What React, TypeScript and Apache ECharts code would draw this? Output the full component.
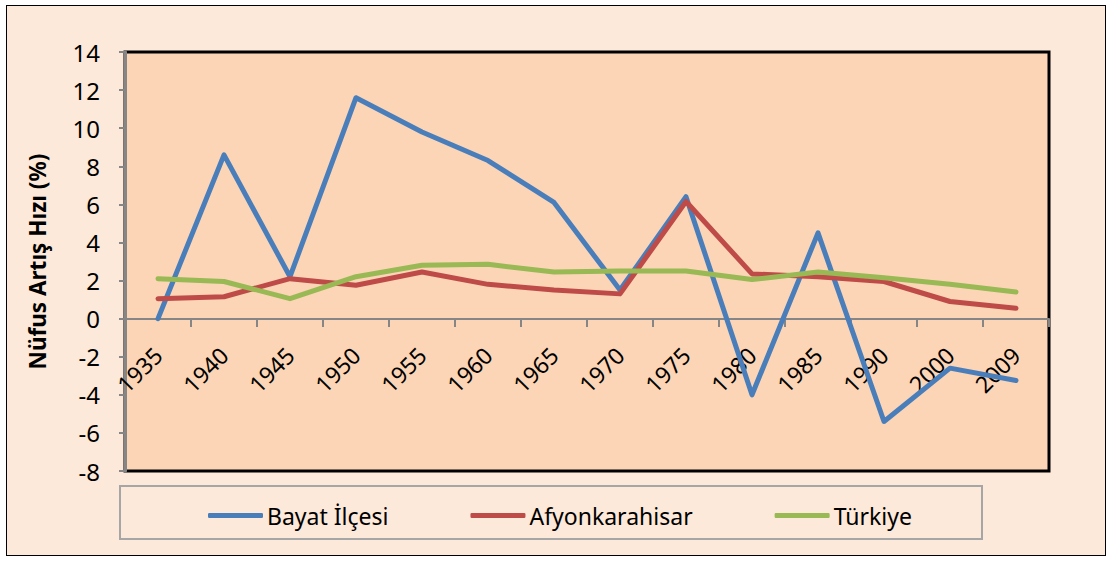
import React, { useEffect, useRef } from "react";
import * as echarts from "echarts";

const years = ["1935", "1940", "1945", "1950", "1955", "1960", "1965", "1970", "1975", "1980", "1985", "1990", "2000", "2009"];
const bayat = [0, 8.6, 2.2, 11.6, 9.8, 8.3, 6.1, 1.5, 6.4, -4.0, 4.5, -5.4, -2.6, -3.25];
const afyon = [1.05, 1.15, 2.1, 1.75, 2.45, 1.8, 1.5, 1.3, 6.15, 2.35, 2.2, 1.95, 0.9, 0.55];
const turkiye = [2.1, 1.95, 1.05, 2.2, 2.8, 2.85, 2.45, 2.5, 2.5, 2.05, 2.45, 2.15, 1.8, 1.4];
const seriesNames = ["Bayat İlçesi", "Afyonkarahisar", "Türkiye"];
const colors = ["#4a7ebb", "#be4b48", "#98b954"];
const yTicks = { min: -8, max: 14, interval: 2 };

const FONT = "'Noto Sans', 'Open Sans', sans-serif";

export default function App() {
  const ref = useRef<HTMLDivElement>(null);
  useEffect(() => {
    if (!ref.current) return;
    const chart = echarts.init(ref.current, null, { renderer: "svg" });
    const data = [bayat, afyon, turkiye];
    chart.setOption({
      animation: false,
      textStyle: { fontFamily: FONT },
      grid: {
        left: 125,
        top: 52,
        right: 63,
        bottom: 90,
        show: true,
        backgroundColor: "#fbd5b5",
        borderColor: "#000",
        borderWidth: 3,
      },
      legend: {
        data: seriesNames,
        left: 203,
        top: 499,
        itemGap: 82,
        itemWidth: 55,
        itemHeight: 5,
        icon: "roundRect",
        textStyle: { fontFamily: FONT, fontSize: 23, color: "#000", padding: [0, 0, 0, -1] },
      },
      xAxis: {
        type: "category",
        data: years,
        boundaryGap: true,
        offset: -152,
        axisLine: { onZero: false, lineStyle: { color: "#868686", width: 2 } },
        axisTick: { show: true, interval: 0, length: 8, lineStyle: { color: "#868686", width: 2 } },
        axisLabel: { interval: 0, rotate: 45, margin: 32, fontSize: 23, color: "#000", fontFamily: FONT },
        splitLine: { show: false },
      },
      yAxis: {
        type: "value",
        min: yTicks.min,
        max: yTicks.max,
        interval: yTicks.interval,
        name: "Nüfus Artış Hızı (%)",
        nameLocation: "middle",
        nameGap: 76,
        nameRotate: 90,
        nameTextStyle: { fontSize: 22.5, fontWeight: "bold", color: "#000", fontFamily: FONT },
        axisLine: { show: true, lineStyle: { color: "#868686", width: 3 } },
        axisTick: { show: true, length: 6, lineStyle: { color: "#868686", width: 2 } },
        axisLabel: { margin: 25, fontSize: 24, color: "#000", fontFamily: FONT },
        splitLine: { show: false },
      },
      graphic: [
        {
          type: "rect",
          shape: { x: 120, y: 486, width: 862, height: 53 },
          style: { fill: "none", stroke: "#a6a6a6", lineWidth: 2 },
        },
      ],
      series: seriesNames.map((n, i) => ({
        name: n,
        type: "line",
        data: data[i],
        symbol: "none",
        lineStyle: { color: colors[i], width: 5, cap: "round", join: "round" },
        itemStyle: { color: colors[i] },
      })),
    });
    return () => chart.dispose();
  }, []);
  return (
    <div style={{ position: "absolute", left: 0, top: 0, width: 1112, height: 561, background: "#fff" }}>
      <div
        style={{
          position: "absolute",
          left: 6,
          top: 5,
          width: 1100,
          height: 551,
          boxSizing: "border-box",
          border: "1.5px solid #000",
          background: "#fde9d9",
        }}
      />
      <div ref={ref} style={{ position: "absolute", left: 0, top: 0, width: 1112, height: 561 }} />
    </div>
  );
}
